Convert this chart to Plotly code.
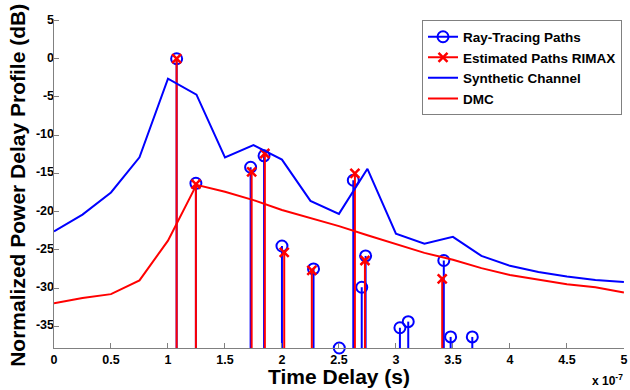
import plotly.graph_objects as go

# ---- data (time in seconds, power in dB) ----
grid_delay = [i * 0.25e-7 for i in range(21)]
synthetic_db = [-22.6, -20.4, -17.5, -12.9, -2.6, -4.7, -12.9, -11.3, -13.2, -18.6, -20.3,
                -14.4, -22.9, -24.2, -23.3, -25.8, -27.1, -27.9, -28.5, -28.95, -29.2]
dmc_db = [-32.0, -31.3, -30.8, -29.0, -23.8, -16.5, -17.4, -18.5, -19.8, -20.8, -21.9,
          -23.1, -24.2, -25.4, -26.3, -27.4, -28.3, -28.9, -29.5, -29.9, -30.6]

rt_delay = [1.076e-7, 1.245e-7, 1.725e-7, 1.843e-7, 2.000e-7, 2.277e-7, 2.503e-7, 2.626e-7,
            2.700e-7, 2.734e-7, 3.035e-7, 3.108e-7, 3.420e-7, 3.480e-7, 3.670e-7]
rt_db = [0.0, -16.3, -14.2, -12.7, -24.5, -27.5, -37.85, -15.9,
         -29.9, -25.8, -35.2, -34.4, -26.4, -36.4, -36.4]

rimax_delay = [1.076e-7, 1.245e-7, 1.734e-7, 1.850e-7, 2.020e-7, 2.262e-7, 2.640e-7, 2.728e-7, 3.406e-7]
rimax_db = [0.0, -16.4, -14.8, -12.4, -25.35, -27.7, -15.0, -26.4, -28.8]

x_ticks = [i * 0.5e-7 for i in range(11)]
x_ticklabels = ["0", "0.5", "1", "1.5", "2", "2.5", "3", "3.5", "4", "4.5", "5"]
y_ticks = [5, 0, -5, -10, -15, -20, -25, -30, -35]
y_ticklabels = ["5", "0", "-5", "-10", "-15", "-20", "-25", "-30", "-35"]
Y_MIN, Y_MAX = -37.85, 5.2
X_MIN, X_MAX = 0, 5.001e-7
STEM_BASE = -40

BLUE = "#0000FF"
RED = "#FF0000"
FONT = "Liberation Sans, Arial, sans-serif"


def stem_xy(xs, ys, base):
    sx, sy = [], []
    for x, y in zip(xs, ys):
        sx += [x, x, None]
        sy += [base, y, None]
    return sx, sy


fig = go.Figure()

# legend entries (no data)
fig.add_trace(go.Scatter(x=[None], y=[None], mode="lines+markers", name="Ray-Tracing Paths",
                         line=dict(color=BLUE, width=2),
                         marker=dict(symbol="circle-open", size=11, color=BLUE, line=dict(width=2))))
fig.add_trace(go.Scatter(x=[None], y=[None], mode="lines+markers", name="Estimated Paths RIMAX",
                         line=dict(color=RED, width=2),
                         marker=dict(symbol="x-thin", size=9, color=RED, line=dict(width=2.5, color=RED))))

sx, sy = stem_xy(rt_delay, rt_db, STEM_BASE)
fig.add_trace(go.Scatter(x=sx, y=sy, mode="lines", line=dict(color=BLUE, width=2),
                         showlegend=False, hoverinfo="skip"))
fig.add_trace(go.Scatter(x=rt_delay, y=rt_db, mode="markers", showlegend=False, cliponaxis=False,
                         marker=dict(symbol="circle-open", size=11, color=BLUE, line=dict(width=2))))

sx, sy = stem_xy(rimax_delay, rimax_db, STEM_BASE)
fig.add_trace(go.Scatter(x=sx, y=sy, mode="lines", line=dict(color=RED, width=2),
                         showlegend=False, hoverinfo="skip"))
fig.add_trace(go.Scatter(x=rimax_delay, y=rimax_db, mode="markers", showlegend=False, cliponaxis=False,
                         marker=dict(symbol="x-thin", size=9, color=RED, line=dict(width=2.5, color=RED))))

fig.add_trace(go.Scatter(x=grid_delay, y=synthetic_db, mode="lines", name="Synthetic Channel",
                         line=dict(color=BLUE, width=2)))
fig.add_trace(go.Scatter(x=grid_delay, y=dmc_db, mode="lines", name="DMC",
                         line=dict(color=RED, width=2)))

tick_font = dict(family=FONT, size=12.5, color="black", weight="bold")

# y tick labels, placed through the axis scale just left of the y axis
fig.add_trace(go.Scatter(x=[X_MIN] * len(y_ticks), y=y_ticks, text=y_ticklabels, mode="text",
                         textposition="middle left", textfont=tick_font, cliponaxis=False,
                         showlegend=False, hoverinfo="skip"))

axis_common = dict(showgrid=False, zeroline=False, showline=True, linecolor="#808080", linewidth=1,
                   ticks="inside", ticklen=5, tickcolor="#808080", mirror=False, automargin=False,
                   ticklabeloverflow="allow", tickfont=tick_font)

title_font = dict(family=FONT, size=21, color="black", weight="bold")

fig.update_layout(
    width=630, height=390,
    margin=dict(l=54, r=6, t=18.5, b=42),
    paper_bgcolor="white", plot_bgcolor="white",
    xaxis=dict(range=[X_MIN, X_MAX], tickvals=x_ticks, ticktext=x_ticklabels, **axis_common),
    yaxis=dict(range=[Y_MIN, Y_MAX], tickvals=y_ticks, showticklabels=False, **axis_common),
    legend=dict(x=0.9965, y=0.9955, xanchor="right", yanchor="top", bgcolor="white",
                bordercolor="#808080", borderwidth=1, traceorder="normal",
                font=dict(family=FONT, size=13.5, color="black", weight="bold"),
                tracegroupgap=0),
    annotations=[
        dict(text="Time Delay (s)", x=0.5, y=-0.088, xref="paper", yref="paper",
             xanchor="center", yanchor="middle", showarrow=False, font=title_font),
        dict(text="Normalized Power Delay Profile (dB)", x=-0.0632, y=0.496, xref="paper", yref="paper",
             xanchor="center", yanchor="middle", textangle=-90, showarrow=False, font=title_font),
        dict(text="x 10<sup>-7</sup>", x=1.002, y=-0.098, xref="paper", yref="paper",
             xanchor="right", yanchor="middle", showarrow=False,
             font=dict(family=FONT, size=12, color="black", weight="bold")),
    ],
)

fig.write_html("out.html", config={"displayModeBar": False},
               post_script="document.body.style.margin='0';document.body.style.overflow='hidden';")
